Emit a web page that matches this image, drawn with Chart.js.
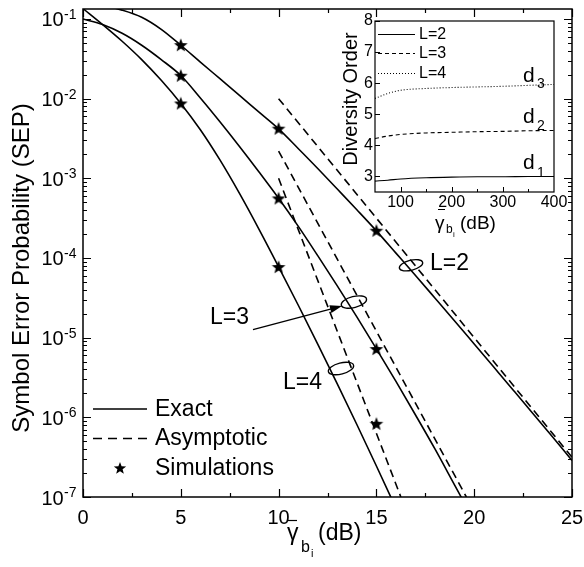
<!DOCTYPE html>
<html>
<head>
<meta charset="utf-8">
<script src="https://cdn.jsdelivr.net/npm/chart.js@4/dist/chart.umd.min.js"></script>
<style>
  html, body { margin: 0; padding: 0; background: #fff; }
  #wrap { position: relative; width: 584px; height: 567px; }
  #main { position: absolute; left: 0; top: 0; }
  #inset { position: absolute; left: 330px; top: 10px; }
</style>
</head>
<body>
<div id="wrap">
  <canvas id="main" width="584" height="567"></canvas>
  <canvas id="inset" width="240" height="240"></canvas>
</div>
<script>
// main plot data
var snrDb = [0, 1, 2, 3, 4, 5, 6, 7, 8, 9, 10, 11, 12, 13, 14, 15, 16, 17, 18, 19, 20, 21, 22, 23, 24, 25]
var exactL2 = [0.158, 0.148, 0.129, 0.105, 0.0741, 0.0468, 0.0288, 0.0178, 0.0110, 0.00676, 0.00417,
  0.00237, 0.00133, 7.33e-4, 4.03e-4, 2.19e-4, 1.15e-4, 6.03e-5, 3.13e-5, 1.62e-5, 8.32e-6,
  4.27e-6, 2.19e-6, 1.12e-6, 5.69e-7, 2.88e-7]
var exactL3 = [0.1, 0.0851, 0.0661, 0.0468, 0.0309, 0.0195, 0.0102, 0.00513, 0.00251, 0.00120, 5.62e-4,
  2.51e-4, 1.07e-4, 4.47e-5, 1.82e-5, 7.24e-6, 2.82e-6, 1.07e-6, 3.98e-7, 1.41e-7, 5.0e-8]
var exactL4 = [0.135, 0.0851, 0.0525, 0.0309, 0.0170, 0.00871, 0.00407, 0.00170, 6.46e-4, 2.29e-4, 7.76e-5,
  2.57e-5, 8.32e-6, 2.63e-6, 8.13e-7, 2.45e-7, 7.24e-8]
var asymL2x = [10, 25]
var asymL2 = [1.0e-2, 3.16e-7]
var asymL3x = [10, 19.6]
var asymL3 = [2.2e-3, 1.0e-7]
var asymL4x = [10, 16.25]
var asymL4 = [1.0e-3, 1.0e-7]
var simX = [5, 10, 15]
var simL2 = [0.047, 0.0042, 2.2e-4]
var simL3 = [0.0194, 5.6e-4, 7.2e-6]
var simL4 = [0.0087, 7.7e-5, 8.3e-7]
var xTicks = [0, 5, 10, 15, 20, 25]
var yTickExps = [-7, -6, -5, -4, -3, -2, -1]

// inset data
var insetX = [50, 75, 100, 150, 200, 250, 300, 350, 400]
var divL2 = [2.85, 2.88, 2.92, 2.96, 2.98, 2.99, 2.99, 3.0, 3.0]
var divL3 = [4.22, 4.30, 4.35, 4.40, 4.42, 4.44, 4.45, 4.47, 4.48]
var divL4 = [5.51, 5.67, 5.77, 5.83, 5.86, 5.88, 5.90, 5.93, 5.96]
var insetXTicks = [100, 200, 300, 400]
var insetYTicks = [3, 4, 5, 6, 7, 8]

var FONT = '"Liberation Sans", Arial, sans-serif'

function pts(xs, ys) {
  return ys.map(function (y, i) { return { x: xs[i], y: y } })
}

function starPath(ctx, cx, cy, r) {
  ctx.beginPath()
  for (var i = 0; i < 10; i++) {
    var rad = i % 2 === 0 ? r : r * 0.42
    var a = -Math.PI / 2 + i * Math.PI / 5
    var px = cx + rad * Math.cos(a), py = cy + rad * Math.sin(a)
    if (i === 0) ctx.moveTo(px, py); else ctx.lineTo(px, py)
  }
  ctx.closePath()
  ctx.fill()
}

var starImg = document.createElement('canvas')
starImg.width = 16
starImg.height = 16
starImg.getContext('2d').fillStyle = '#000'
starPath(starImg.getContext('2d'), 8, 8.5, 7.2)

function exactSet(ys) {
  return {
    data: pts(snrDb, ys), showLine: true, borderColor: '#000', borderWidth: 1.6,
    pointRadius: 0, cubicInterpolationMode: 'monotone', clip: 0
  }
}
function asymSet(xs, ys) {
  return {
    data: pts(xs, ys), showLine: true, borderColor: '#000', borderWidth: 1.6,
    borderDash: [8, 5], pointRadius: 0, clip: 0
  }
}
function simSet(ys) {
  return { data: pts(simX, ys), showLine: false, pointStyle: starImg, pointRadius: 8 }
}

function text(ctx, s, x, y, size, align, base) {
  ctx.font = size + 'px ' + FONT
  ctx.textAlign = align || 'left'
  ctx.textBaseline = base || 'alphabetic'
  ctx.fillText(s, x, y)
}

var mainAxes = {
  id: 'mainAxes',
  afterDatasetsDraw(chart) {
    var ctx = chart.ctx, a = chart.chartArea
    var xs = chart.scales.x, ys = chart.scales.y
    ctx.save()
    ctx.strokeStyle = '#000'
    ctx.fillStyle = '#000'
    ctx.lineWidth = 1.5
    ctx.strokeRect(a.left, a.top, a.right - a.left, a.bottom - a.top)

    ctx.lineWidth = 1.2
    ctx.beginPath()
    for (var v = 0; v <= 25; v += 2.5) {
      var len = v % 5 === 0 ? 8 : 4
      var x = Math.round(xs.getPixelForValue(v)) + 0.5
      ctx.moveTo(x, a.bottom); ctx.lineTo(x, a.bottom - len)
      ctx.moveTo(x, a.top); ctx.lineTo(x, a.top + len)
    }
    for (var e = -7; e <= -1; e++) {
      for (var m = 1; m <= 9; m++) {
        var val = m * Math.pow(10, e)
        if (val > ys.max) continue
        var y = Math.round(ys.getPixelForValue(val)) + 0.5
        var l = m === 1 ? 8 : 4
        ctx.moveTo(a.left, y); ctx.lineTo(a.left + l, y)
        ctx.moveTo(a.right, y); ctx.lineTo(a.right - l, y)
      }
    }
    ctx.stroke()

    // tick labels
    xTicks.forEach(function (t) {
      text(ctx, String(t), xs.getPixelForValue(t), 518, 20, 'center', 'middle')
    })
    yTickExps.forEach(function (e) {
      var y = ys.getPixelForValue(Math.pow(10, e))
      text(ctx, '10', 41.5, y + 7.5, 20, 'left')
      text(ctx, String(e), 64, y, 14, 'left')
    })

    // axis titles
    ctx.save()
    ctx.translate(29, 268)
    ctx.rotate(-Math.PI / 2)
    text(ctx, 'Symbol Error Probability (SEP)', 0, 0, 24, 'center')
    ctx.restore()
    text(ctx, 'γ', 287, 540, 23, 'left')
    ctx.lineWidth = 1.2
    ctx.beginPath(); ctx.moveTo(288, 520.5); ctx.lineTo(297, 520.5); ctx.stroke()
    text(ctx, 'b', 301, 552, 16, 'left')
    text(ctx, 'i', 311, 557, 11, 'left')
    text(ctx, '(dB)', 318, 540, 23, 'left')

    // annotations
    function ell(x, y, rx, ry) {
      ctx.beginPath()
      ctx.ellipse(xs.getPixelForValue(x), ys.getPixelForValue(y), rx, ry, -0.25, 0, Math.PI * 2)
      ctx.stroke()
    }
    ctx.lineWidth = 1.3
    ell(16.77, 8.1e-5, 12, 5)
    ell(13.85, 2.8e-5, 13, 5.5)
    ell(13.19, 4.1e-6, 13, 5.5)

    var x0 = xs.getPixelForValue(8.69), y0 = ys.getPixelForValue(1.26e-5)
    var x1 = xs.getPixelForValue(13.24), y1 = ys.getPixelForValue(2.5e-5)
    var ang = Math.atan2(y1 - y0, x1 - x0)
    ctx.beginPath(); ctx.moveTo(x0, y0)
    ctx.lineTo(x1 - 10 * Math.cos(ang), y1 - 10 * Math.sin(ang)); ctx.stroke()
    ctx.beginPath()
    ctx.moveTo(x1, y1)
    ctx.lineTo(x1 - 12 * Math.cos(ang) + 4 * Math.sin(ang), y1 - 12 * Math.sin(ang) - 4 * Math.cos(ang))
    ctx.lineTo(x1 - 12 * Math.cos(ang) - 4 * Math.sin(ang), y1 - 12 * Math.sin(ang) + 4 * Math.cos(ang))
    ctx.closePath(); ctx.fill()

    text(ctx, 'L=2', xs.getPixelForValue(17.74), ys.getPixelForValue(8.4e-5), 23, 'left', 'middle')
    text(ctx, 'L=3', xs.getPixelForValue(6.49), ys.getPixelForValue(1.78e-5), 23, 'left', 'middle')
    text(ctx, 'L=4', xs.getPixelForValue(10.22), ys.getPixelForValue(2.75e-6), 23, 'left', 'middle')

    // legend
    ctx.lineWidth = 1.6
    ctx.beginPath(); ctx.moveTo(93, 409); ctx.lineTo(147, 409); ctx.stroke()
    ctx.setLineDash([9, 6])
    ctx.beginPath(); ctx.moveTo(93, 438.5); ctx.lineTo(147, 438.5); ctx.stroke()
    ctx.setLineDash([])
    starPath(ctx, 120, 468.5, 6.5)
    text(ctx, 'Exact', 155, 410, 23, 'left', 'middle')
    text(ctx, 'Asymptotic', 155, 439, 23, 'left', 'middle')
    text(ctx, 'Simulations', 155, 469, 23, 'left', 'middle')
    ctx.restore()
  }
}

new Chart(document.getElementById('main'), {
  type: 'scatter',
  data: {
    datasets: [
      exactSet(exactL2), exactSet(exactL3), exactSet(exactL4),
      asymSet(asymL2x, asymL2), asymSet(asymL3x, asymL3), asymSet(asymL4x, asymL4),
      simSet(simL2), simSet(simL3), simSet(simL4)
    ]
  },
  options: {
    responsive: false,
    animation: false,
    events: [],
    layout: { padding: { left: 83, top: 7, right: 12, bottom: 70 } },
    plugins: { legend: { display: false }, tooltip: { enabled: false } },
    scales: {
      x: { type: 'linear', min: 0, max: 25, display: false },
      y: { type: 'logarithmic', min: 1e-7, max: 0.1334, display: false }
    }
  },
  plugins: [mainAxes]
})

var insetAxes = {
  id: 'insetAxes',
  afterDatasetsDraw(chart) {
    var ctx = chart.ctx, a = chart.chartArea
    var xs = chart.scales.x, ys = chart.scales.y
    ctx.save()
    ctx.strokeStyle = '#000'
    ctx.fillStyle = '#000'
    ctx.lineWidth = 1.2
    ctx.strokeRect(a.left, a.top, a.right - a.left, a.bottom - a.top)
    ctx.lineWidth = 1
    ctx.beginPath()
    for (var v = 100; v < 400; v += 50) {
      var x = Math.round(xs.getPixelForValue(v)) + 0.5
      ctx.moveTo(x, a.bottom); ctx.lineTo(x, a.bottom - (v % 100 === 0 ? 5 : 3))
    }
    insetYTicks.forEach(function (t) {
      var y = Math.round(ys.getPixelForValue(t)) + 0.5
      ctx.moveTo(a.left, y); ctx.lineTo(a.left + 5, y)
    })
    ctx.stroke()

    insetXTicks.forEach(function (t) {
      text(ctx, String(t), xs.getPixelForValue(t), 193, 16, 'center', 'middle')
    })
    insetYTicks.forEach(function (t) {
      text(ctx, String(t), 43, ys.getPixelForValue(t), 16, 'right', 'middle')
    })

    ctx.save()
    ctx.translate(27, 89)
    ctx.rotate(-Math.PI / 2)
    text(ctx, 'Diversity Order', 0, 0, 20, 'center')
    ctx.restore()
    text(ctx, 'γ', 105, 219, 19, 'left')
    ctx.beginPath(); ctx.moveTo(108, 199.5); ctx.lineTo(115, 199.5); ctx.stroke()
    text(ctx, 'b', 116, 223, 12, 'left')
    text(ctx, 'i', 123, 227, 8, 'left')
    text(ctx, '(dB)', 130, 219, 19, 'left')

    // legend
    ctx.beginPath(); ctx.moveTo(48, 24.5); ctx.lineTo(85, 24.5); ctx.stroke()
    ctx.setLineDash([4, 3])
    ctx.beginPath(); ctx.moveTo(48, 43.5); ctx.lineTo(85, 43.5); ctx.stroke()
    ctx.setLineDash([1, 2])
    ctx.beginPath(); ctx.moveTo(48, 63.5); ctx.lineTo(85, 63.5); ctx.stroke()
    ctx.setLineDash([])
    text(ctx, 'L=2', 89, 25, 16, 'left', 'middle')
    text(ctx, 'L=3', 89, 44, 16, 'left', 'middle')
    text(ctx, 'L=4', 89, 64, 16, 'left', 'middle')

    text(ctx, 'd', 193, 72, 21, 'left')
    text(ctx, '3', 207, 78, 14, 'left')
    text(ctx, 'd', 193, 113, 21, 'left')
    text(ctx, '2', 207, 120, 14, 'left')
    text(ctx, 'd', 193, 159, 21, 'left')
    text(ctx, '1', 207, 167, 14, 'left')
    ctx.restore()
  }
}

new Chart(document.getElementById('inset'), {
  type: 'scatter',
  data: {
    datasets: [
      { data: pts(insetX, divL2), showLine: true, borderColor: '#000', borderWidth: 1.1, pointRadius: 0, cubicInterpolationMode: 'monotone' },
      { data: pts(insetX, divL3), showLine: true, borderColor: '#000', borderWidth: 1.1, borderDash: [4, 3], pointRadius: 0, cubicInterpolationMode: 'monotone' },
      { data: pts(insetX, divL4), showLine: true, borderColor: '#000', borderWidth: 1.1, borderDash: [1, 2], pointRadius: 0, cubicInterpolationMode: 'monotone' }
    ]
  },
  options: {
    responsive: false,
    animation: false,
    events: [],
    layout: { padding: { left: 45, top: 11, right: 16, bottom: 58 } },
    plugins: { legend: { display: false }, tooltip: { enabled: false } },
    scales: {
      x: { type: 'linear', min: 50, max: 400, display: false },
      y: { type: 'linear', min: 2.5, max: 8, display: false }
    }
  },
  plugins: [insetAxes]
})
</script>
</body>
</html>
